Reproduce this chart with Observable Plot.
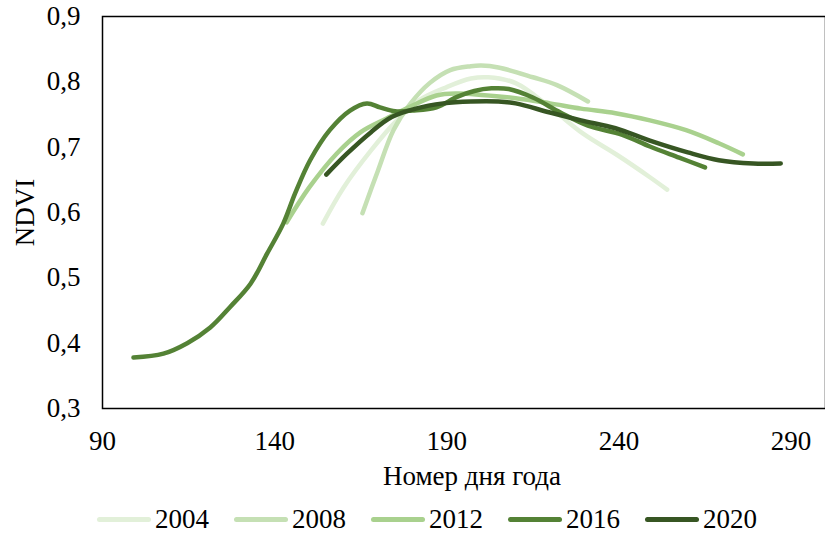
<!DOCTYPE html>
<html>
<head>
<meta charset="utf-8">
<script src="https://cdn.jsdelivr.net/npm/d3@7"></script>
<script src="https://cdn.jsdelivr.net/npm/@observablehq/plot@0.6"></script>
<style>
  body { margin: 0; background: #fff; font-family: "Liberation Serif", "Times New Roman", serif; }
  #chart { width: 825px; }
  .legend { display: flex; align-items: center; height: 35px; padding-left: 97px; padding-top: 2px; font-size: 27px; color: #000; line-height: 1; }
  .item { display: flex; align-items: center; margin-right: 25px; }
  .sw { display: inline-block; width: 54px; height: 5px; border-radius: 3px; margin-right: 4px; }
</style>
</head>
<body>
<div id="chart"></div>
<script>
const years = ["2004", "2008", "2012", "2016", "2020"];
const colors = ["#E2F0D9", "#C5E0B4", "#A9D18E", "#548235", "#375623"];
const xTitle = "Номер дня года";
const yTitle = "NDVI";

const days2004 = [154, 160, 168, 175.5, 182, 190, 197, 202, 210, 220, 229.5, 239.5, 249, 254];
const ndvi2004 = [0.583, 0.638, 0.695, 0.741, 0.772, 0.792, 0.805, 0.807, 0.798, 0.761, 0.721, 0.688, 0.654, 0.635];

const days2008 = [165.5, 170, 174.5, 179.5, 185, 191, 197, 200, 205, 215, 222, 231];
const ndvi2008 = [0.599, 0.664, 0.726, 0.767, 0.798, 0.818, 0.824, 0.825, 0.822, 0.807, 0.795, 0.770];

const days2012 = [143.5, 150, 158, 165, 172.5, 179, 187, 193, 200, 210, 220, 229, 239, 249, 259.5, 269, 276];
const ndvi2012 = [0.585, 0.638, 0.69, 0.723, 0.744, 0.761, 0.779, 0.782, 0.780, 0.775, 0.767, 0.759, 0.752, 0.741, 0.726, 0.706, 0.689];

const days2016 = [99, 107.7, 114.6, 121.3, 127, 133, 137.8, 142.5, 146, 150.3, 156, 161.9, 166.8, 170.6, 175, 180, 187, 193, 198, 203, 208, 215, 223, 231, 241, 249, 257.5, 265];
const ndvi2016 = [0.378, 0.384, 0.40, 0.424, 0.455, 0.491, 0.537, 0.583, 0.630, 0.68, 0.726, 0.756, 0.767, 0.761, 0.755, 0.756, 0.761, 0.777, 0.786, 0.790, 0.789, 0.776, 0.753, 0.733, 0.719, 0.701, 0.684, 0.669];

const days2020 = [155, 161, 168, 174, 181, 189, 197, 205, 210, 220, 229, 239, 249, 260, 269, 279, 287];
const ndvi2020 = [0.658, 0.69, 0.723, 0.746, 0.759, 0.767, 0.770, 0.770, 0.767, 0.753, 0.741, 0.729, 0.710, 0.692, 0.680, 0.675, 0.675];

const xTicks = [90, 140, 190, 240, 290];
const yTicks = [0.3, 0.4, 0.5, 0.6, 0.7, 0.8, 0.9];

const seriesDays = [days2004, days2008, days2012, days2016, days2020];
const seriesNdvi = [ndvi2004, ndvi2008, ndvi2012, ndvi2016, ndvi2020];
const data = years.flatMap((y, i) => seriesDays[i].map((d, j) => ({year: y, day: d, ndvi: seriesNdvi[i][j]})));

const fmt = d => d.toFixed(1).replace(".", ",");

const plot = Plot.plot({
  width: 825,
  height: 500,
  marginLeft: 102,
  marginRight: 0,
  marginTop: 16,
  marginBottom: 92,
  style: {fontFamily: "'Liberation Serif', 'Times New Roman', serif", fontSize: "27px", color: "#000", background: "#fff"},
  x: {domain: [90, 300]},
  y: {domain: [0.3, 0.9]},
  color: {domain: years, range: colors},
  marks: [
    Plot.frame({stroke: "#000", strokeWidth: 1.5}),
    ...years.map(y => Plot.line(data.filter(d => d.year === y), {
      x: "day", y: "ndvi", stroke: "year", strokeWidth: 4.5, curve: "catmull-rom",
      strokeLinecap: "round", strokeLinejoin: "round"
    })),
    Plot.axisX({ticks: xTicks, tickSize: 0, tickPadding: 22, label: null, fontSize: 27}),
    Plot.text([xTitle], {frameAnchor: "bottom", dy: 68, dx: 8, fontSize: 27, fill: "#000", lineAnchor: "middle"}),
    Plot.axisY({ticks: yTicks, tickSize: 0, tickPadding: 22, tickFormat: fmt, label: yTitle, labelAnchor: "center", labelArrow: "none", labelOffset: 88, fontSize: 27})
  ]
});
document.getElementById("chart").appendChild(plot);

const legend = document.createElement("div");
legend.className = "legend";
years.forEach((y, i) => {
  const it = document.createElement("div");
  it.className = "item";
  const sw = document.createElement("span");
  sw.className = "sw";
  sw.style.background = colors[i];
  const t = document.createElement("span");
  t.textContent = y;
  it.appendChild(sw); it.appendChild(t);
  legend.appendChild(it);
});
document.getElementById("chart").appendChild(legend);
</script>
</body>
</html>
